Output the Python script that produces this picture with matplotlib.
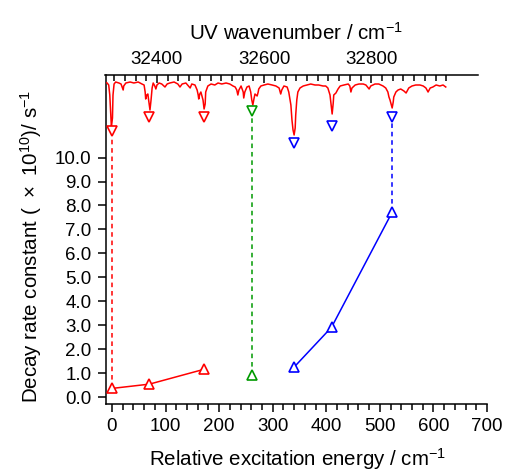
import numpy as np
import matplotlib
matplotlib.use('Agg')
import matplotlib.pyplot as plt
from matplotlib.ticker import FixedLocator, FormatStrFormatter

plt.rcParams['font.family'] = ['Liberation Sans', 'DejaVu Sans']
plt.rcParams['mathtext.fontset'] = 'custom'
plt.rcParams['mathtext.rm'] = 'Liberation Sans'
plt.rcParams['mathtext.it'] = 'Liberation Sans:italic'
plt.rcParams['mathtext.bf'] = 'Liberation Sans:bold'

# ---------------- data ----------------
ORIGIN_WAVENUMBER = 32316  # band origin (cm-1), relative energy 0

red_energy = [0, 70, 172]
red_rate = [0.36, 0.54, 1.16]
green_energy = [262]
green_rate = [0.92]
blue_energy = [340, 410, 523]
blue_rate = [1.25, 2.92, 7.72]

# level of the band markers on the UV spectrum (spectrum signal units)
red_peak_level = [9, 23, 23]
green_peak_level = [29]
blue_peak_level = [-3, 14, 23]

# UV spectrum (wavenumber / cm-1, ion signal arb.)
spec_wavenumber = [
    32303, 32307, 32310, 32312, 32314, 32315, 32317, 32318, 32320, 32323,
    32329, 32333, 32335, 32337, 32338, 32342, 32350, 32357, 32365, 32372,
    32376, 32378, 32379, 32381, 32383, 32385, 32387, 32389, 32391, 32393,
    32396, 32398, 32400, 32404, 32409, 32415, 32419, 32424, 32432, 32439,
    32443, 32447, 32454, 32462, 32465, 32471, 32475, 32477, 32478, 32480,
    32482, 32486, 32488, 32490, 32491, 32495, 32501, 32508, 32514, 32521,
    32529, 32536, 32542, 32546, 32549, 32551, 32553, 32557, 32561, 32562,
    32564, 32568, 32572, 32575, 32577, 32579, 32581, 32583, 32587, 32589,
    32590, 32594, 32600, 32607, 32615, 32622, 32628, 32630, 32631, 32633,
    32637, 32643, 32646, 32650, 32652, 32654, 32656, 32658, 32659, 32661,
    32663, 32667, 32673, 32680, 32687, 32695, 32702, 32710, 32715, 32719,
    32723, 32725, 32727, 32729, 32730, 32734, 32738, 32742, 32749, 32757,
    32760, 32762, 32764, 32770, 32777, 32785, 32790, 32796, 32799, 32807,
    32814, 32822, 32827, 32831, 32833, 32835, 32837, 32839, 32841, 32842,
    32846, 32850, 32855, 32861, 32865, 32870, 32876, 32883, 32891, 32897,
    32902, 32906, 32910, 32915, 32921, 32928, 32934, 32939,
]
spec_signal = [
    58, 57, 55, 45, 25, 13, 22, 45, 56, 58,
    57, 56, 53, 50, 54, 57, 58, 57, 58, 56,
    55, 48, 41, 45, 46, 38, 30, 40, 52, 57,
    54, 51, 55, 57, 56, 53, 56, 57, 58, 56,
    53, 56, 57, 52, 56, 55, 50, 45, 41, 46,
    48, 40, 31, 36, 48, 54, 56, 55, 57, 56,
    57, 56, 54, 53, 50, 45, 50, 54, 48, 42,
    48, 53, 54, 48, 40, 35, 41, 46, 44, 48,
    51, 54, 55, 56, 55, 54, 52, 48, 46, 50,
    54, 53, 48, 35, 20, 10, 5, 12, 25, 40,
    48, 52, 54, 55, 56, 55, 55, 54, 54, 52,
    45, 35, 26, 37, 45, 47, 51, 54, 55, 56,
    54, 48, 52, 55, 56, 56, 55, 51, 54, 56,
    56, 54, 52, 48, 43, 40, 36, 32, 38, 43,
    48, 50, 51, 49, 47, 52, 54, 55, 55, 54,
    52, 48, 52, 53, 55, 54, 55, 53,
]

x_ticks = [0, 100, 200, 300, 400, 500, 600, 700]
y_ticks = [0, 1, 2, 3, 4, 5, 6, 7, 8, 9, 10]
top_ticks = [32400, 32600, 32800]

RED = '#ff0000'
GREEN = '#009a00'
BLUE = '#0000ff'

TICK_FS = 13.5
LABEL_FS = 14.8

# ---------------- figure ----------------
W, H = 505, 472
fig = plt.figure(figsize=(W / 100, H / 100), dpi=100)
fig.patch.set_facecolor('white')

def frac(px_left, px_top, px_right, px_bottom):
    return [px_left / W, 1 - px_bottom / H, (px_right - px_left) / W,
            (px_bottom - px_top) / H]

xlim = (-12, 700)
ylim = (-0.29, 13.45)

ax = fig.add_axes(frac(105.5, 75, 487, 404))
ax.set_xlim(*xlim)
ax.set_ylim(*ylim)
ax.patch.set_visible(False)
for s in ['top', 'right']:
    ax.spines[s].set_visible(False)
for s in ['left', 'bottom']:
    ax.spines[s].set_linewidth(1.1)

ax.xaxis.set_major_locator(FixedLocator(x_ticks))
ax.xaxis.set_minor_locator(FixedLocator(np.arange(20, 700, 20)))
ax.yaxis.set_major_locator(FixedLocator(y_ticks))
ax.yaxis.set_major_formatter(FormatStrFormatter('%.1f'))
ax.tick_params(axis='x', which='major', direction='out', length=6, width=1.1,
               labelsize=TICK_FS, pad=4)
ax.tick_params(axis='x', which='minor', direction='out', length=4, width=1.1)
ax.tick_params(axis='y', which='major', direction='out', length=6, width=1.1,
               labelsize=TICK_FS, pad=4)

ax.set_xlabel('Relative excitation energy / cm$^{-1}$', fontsize=LABEL_FS)
ax.xaxis.set_label_coords(0.503, -0.127)
ax.set_ylabel('Decay rate constant (\u2002\u00d7\u200210$^{10}$)/ s$^{-1}$',
              fontsize=LABEL_FS)
ax.yaxis.set_label_coords(-0.162, 0.48)

# top wavenumber axis
top = ax.twiny()
top.set_xlim(xlim[0] + ORIGIN_WAVENUMBER, xlim[1] + ORIGIN_WAVENUMBER)
for s in ['left', 'right', 'bottom']:
    top.spines[s].set_visible(False)
top.spines['top'].set_linewidth(1.1)
top.spines['top'].set_bounds(xlim[0] + ORIGIN_WAVENUMBER, 33000)
top.xaxis.set_major_locator(FixedLocator(top_ticks))
top.xaxis.set_minor_locator(FixedLocator(np.arange(32320, 32941, 20)))
top.tick_params(axis='x', which='major', direction='in', length=6, width=1.1,
                labelsize=TICK_FS, pad=5)
top.tick_params(axis='x', which='minor', direction='in', length=4.5, width=1.1)
top.set_xlabel('UV wavenumber / cm$^{-1}$', fontsize=LABEL_FS, labelpad=8)

# spectrum panel
spec = fig.add_axes(frac(105.5, 75, 487, 145))
spec.set_xlim(xlim[0] + ORIGIN_WAVENUMBER, xlim[1] + ORIGIN_WAVENUMBER)
spec.set_ylim(-5, 65)
spec.axis('off')
spec.patch.set_visible(False)
spec.plot(spec_wavenumber, spec_signal, color=RED, lw=1.1, zorder=2)

mk = dict(ms=7.5, mew=1.2, mfc='white', linestyle='none', zorder=4, clip_on=False)
for en, lvl, c in [(red_energy, red_peak_level, RED),
                   (green_energy, green_peak_level, GREEN),
                   (blue_energy, blue_peak_level, BLUE)]:
    spec.plot(np.array(en) + ORIGIN_WAVENUMBER, lvl, marker='v', color=c, **mk)

# decay rate data
for en, rt, c in [(red_energy, red_rate, RED),
                  (green_energy, green_rate, GREEN),
                  (blue_energy, blue_rate, BLUE)]:
    ax.plot(en, rt, color=c, lw=1.1, zorder=2)
    ax.plot(en, rt, marker='^', color=c, **mk)

# dashed links between spectrum bands and data points
links = [(red_energy[0], red_rate[0], red_peak_level[0], RED),
         (green_energy[0], green_rate[0], green_peak_level[0], GREEN),
         (blue_energy[-1], blue_rate[-1], blue_peak_level[-1], BLUE)]
inv = ax.transData.inverted()
for en, rt, lvl, c in links:
    disp = spec.transData.transform((en + ORIGIN_WAVENUMBER, lvl))
    y_top = inv.transform(disp)[1]
    ax.plot([en, en], [rt, y_top], color=c, lw=1.1, linestyle=(0, (3, 2.5)),
            zorder=1, clip_on=False)

fig.savefig('out.png', dpi=100)
